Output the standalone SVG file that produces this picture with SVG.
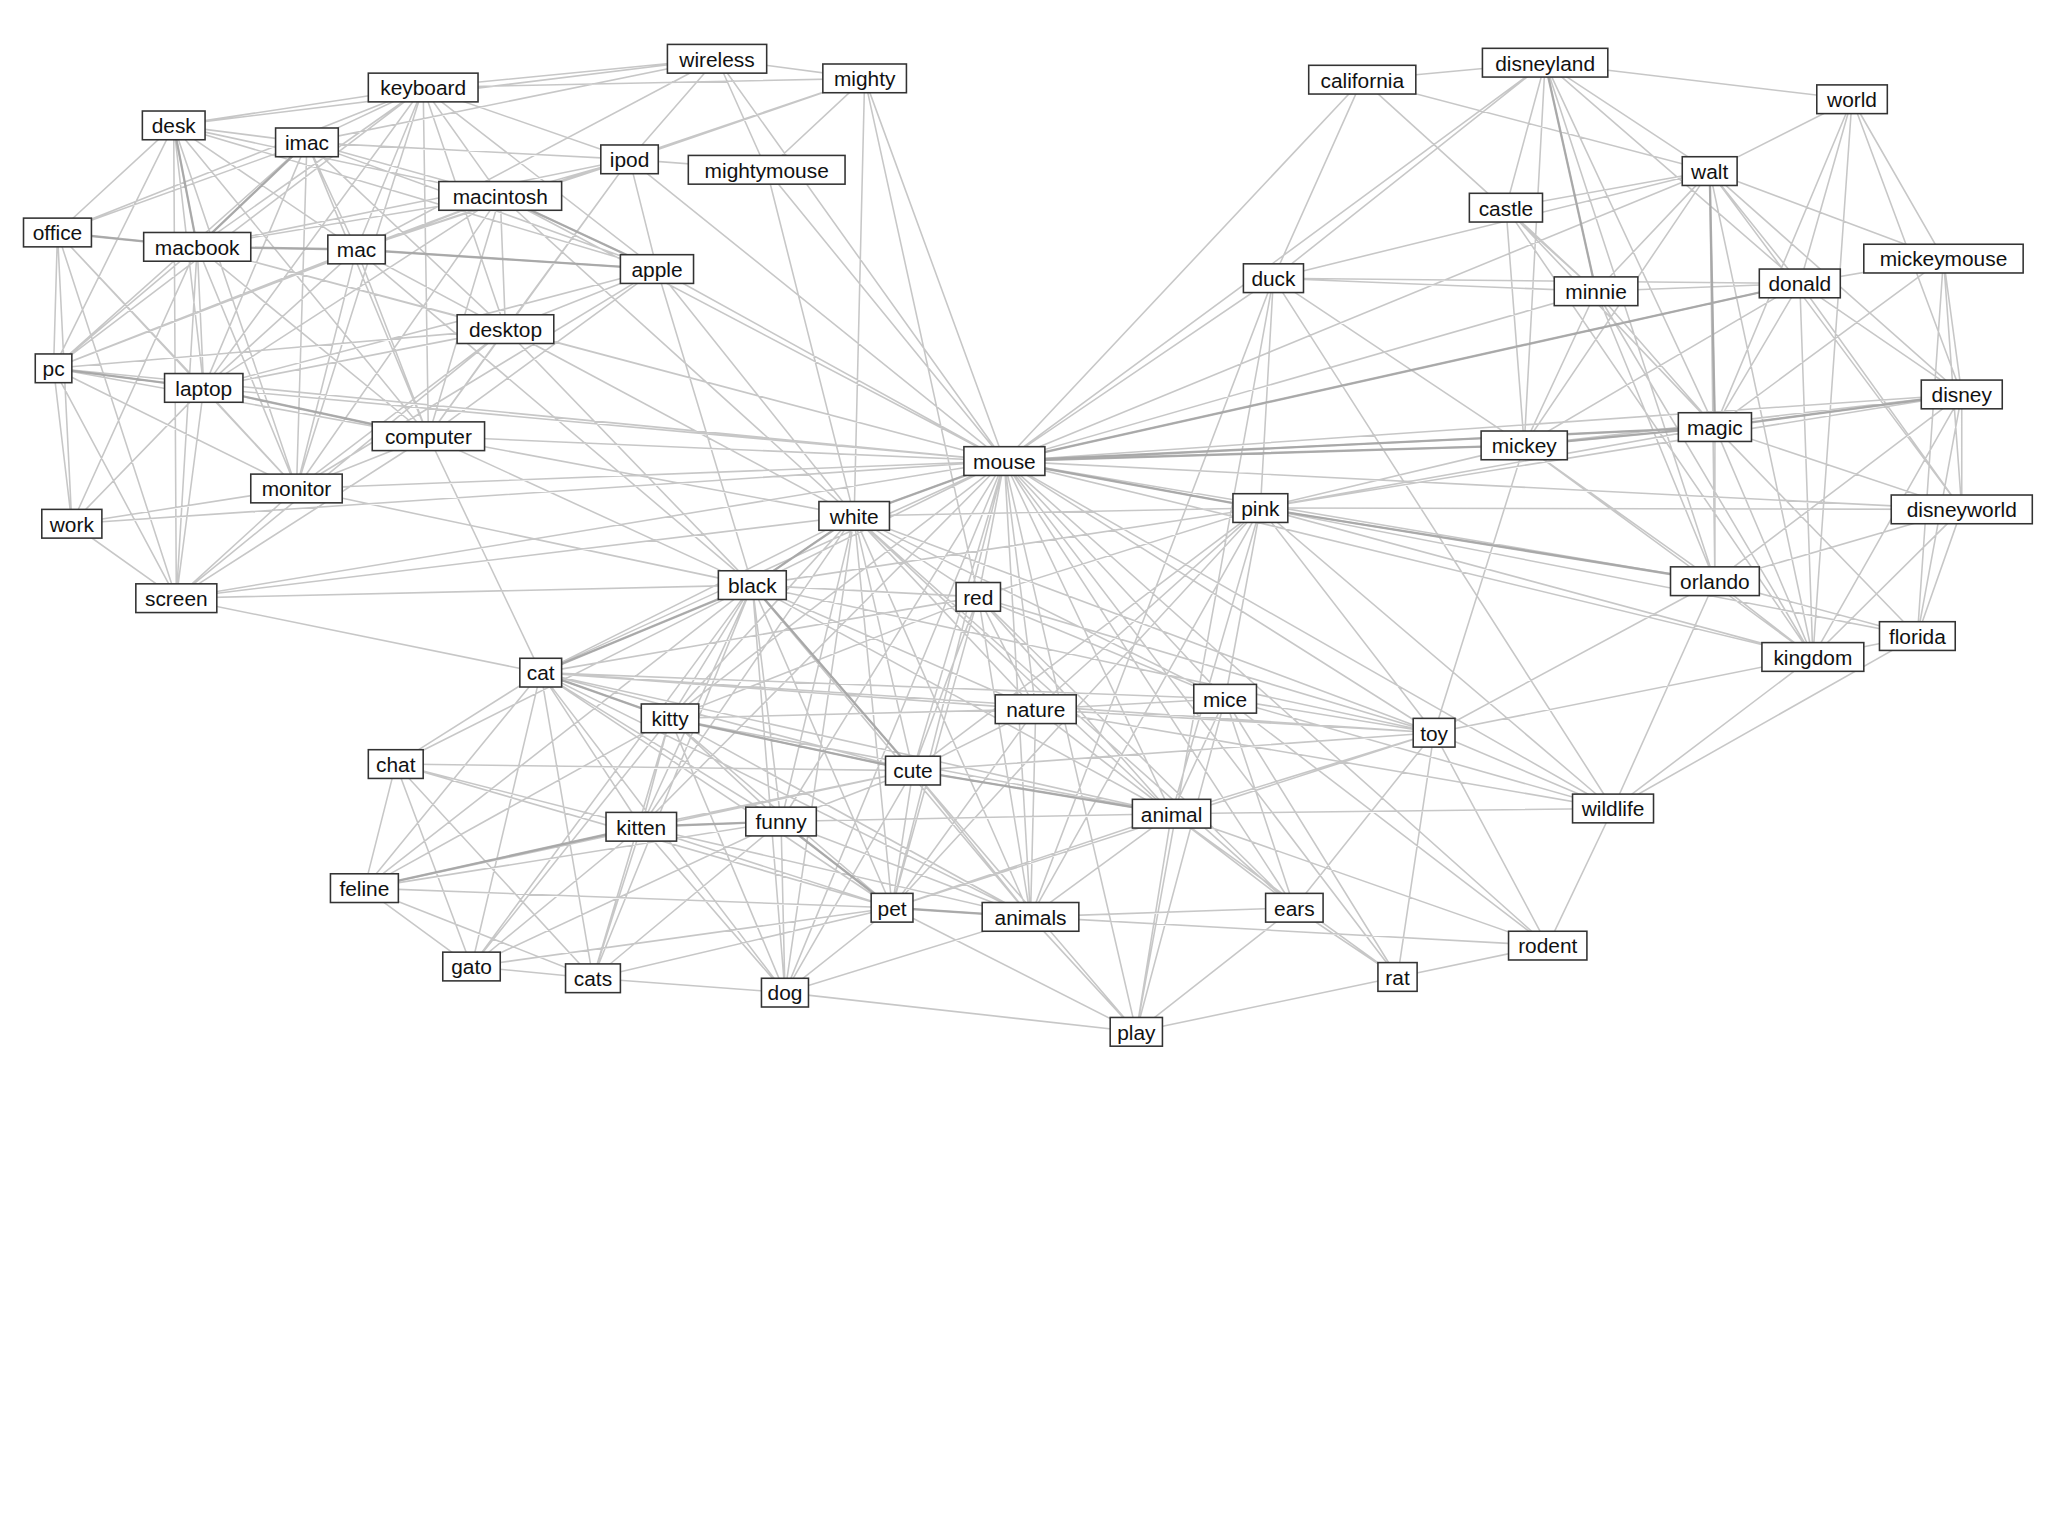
<svg xmlns="http://www.w3.org/2000/svg" width="2048" height="1536" viewBox="0 0 2048 1536">
<style>
.e{stroke:#b4b4b4;stroke-width:1.2;fill:none;opacity:.75}
.s{stroke:#a0a0a0;stroke-width:1.8;fill:none;opacity:.8}
.n rect{fill:#fff;stroke:#333;stroke-width:1.2}
.n text{font-family:"Liberation Sans",Arial,sans-serif;font-size:16px;fill:#111;text-anchor:middle}
</style>
<rect width="2048" height="1536" fill="#fff"/>
<g transform="scale(1.3061)">
<g id="connectors">
<path class="e" d="M324 67L133 96M324 67L235 109M324 67L482 122M324 67L383 150M324 67L151 189M324 67L273 191M324 67L503 206M324 67L387 252M324 67L156 297M324 67L328 334M324 67L227 374M324 67L549 45M324 67L662 60M324 67L44 178M324 67L41 282
M133 96L235 109M133 96L151 189M133 96L273 191M133 96L44 178M133 96L156 297M133 96L328 334M133 96L227 374M133 96L41 282M133 96L383 150M133 96L503 206M133 96L135 458
M235 109L151 189M235 109L273 191M235 109L482 122M235 109L383 150M235 109L503 206M235 109L387 252M235 109L156 297M235 109L328 334M235 109L227 374M235 109L44 178M235 109L41 282
M482 122L383 150M482 122L273 191M482 122L503 206M482 122L387 252M482 122L151 189M482 122L328 334M482 122L549 45M482 122L587 130
M383 150L151 189M383 150L273 191M383 150L503 206M383 150L387 252M383 150L328 334M383 150L156 297M383 150L227 374M383 150L41 282
M151 189L273 191M151 189L156 297M151 189L41 282M151 189L44 178M151 189L227 374M151 189L328 334M151 189L387 252M151 189L135 458M151 189L55 401
M273 191L503 206M273 191L387 252M273 191L328 334M273 191L156 297M273 191L227 374M273 191L41 282
M503 206L387 252M503 206L328 334M503 206L156 297M503 206L227 374M387 252L328 334M387 252L156 297M387 252L227 374M387 252L41 282M387 252L135 458
M44 178L41 282M44 178L156 297M44 178L55 401M44 178L227 374M44 178L135 458M41 282L156 297M41 282L55 401M41 282L135 458M41 282L227 374M41 282L328 334
M156 297L227 374M156 297L328 334M156 297L55 401M156 297L135 458M328 334L227 374M328 334L135 458M227 374L55 401M227 374L135 458M55 401L135 458
M549 45L587 130M549 45L662 60M549 45L273 191M549 45L235 109M549 45L133 96M662 60L587 130M662 60L482 122M662 60L273 191
M769 353L503 206M769 353L387 252M769 353L482 122M769 353L587 130M769 353L549 45M769 353L662 60M769 353L328 334M769 353L383 150M769 353L151 189M769 353L156 297M769 353L41 282M769 353L135 458M769 353L227 374M769 353L55 401
M769 353L975 213M769 353L1183 48M769 353L1309 131M769 353L1043 61M769 353L1222 223M769 353L1378 217M769 353L1167 341M769 353L1313 327M769 353L1502 302M769 353L1502 390M769 353L1313 445M769 353L1388 503
M769 353L654 395M769 353L576 448M769 353L749 457M769 353L965 389M769 353L414 515M769 353L793 543M769 353L938 535M769 353L513 550M769 353L699 590M769 353L897 623M769 353L598 629M769 353L683 695M769 353L789 702M769 353L991 695M769 353L1098 561M769 353L1235 619M769 353L1185 724M769 353L1070 748M769 353L870 790M769 353L601 760M769 353L491 633
M654 395L503 206M654 395L387 252M654 395L328 334M654 395L383 150M654 395L273 191M654 395L587 130M654 395L662 60M654 395L135 458M654 395L576 448M654 395L749 457M654 395L965 389M654 395L414 515M654 395L513 550M654 395L699 590M654 395L793 543M654 395L897 623M654 395L683 695M654 395L789 702M654 395L598 629M654 395L491 633M654 395L601 760M654 395L991 695M654 395L938 535M654 395L1098 561
M576 448L387 252M576 448L328 334M576 448L503 206M576 448L227 374M576 448L135 458M576 448L273 191M576 448L749 457M576 448L414 515M576 448L513 550M576 448L699 590M576 448L491 633M576 448L598 629M576 448L683 695M576 448L789 702M576 448L601 760M576 448L793 543M576 448L897 623M576 448L303 585M576 448L279 680M576 448L361 740M576 448L454 749M576 448L965 389M576 448L1098 561
M749 457L965 389M749 457L414 515M749 457L513 550M749 457L699 590M749 457L793 543M749 457L897 623M749 457L683 695M749 457L789 702M749 457L938 535M749 457L1098 561M749 457L991 695
M965 389L975 213M965 389L1167 341M965 389L1313 327M965 389L1313 445M965 389L1502 390M965 389L1388 503M965 389L1468 487M965 389L1502 302M965 389L897 623M965 389L938 535M965 389L793 543M965 389L789 702M965 389L683 695M965 389L1098 561M965 389L1235 619M965 389L699 590
M1043 61L1183 48M1043 61L975 213M1043 61L1309 131M1043 61L1222 223M1183 48L1418 76M1183 48L1309 131M1183 48L1153 159M1183 48L1222 223M1183 48L1378 217M1183 48L1313 327M1183 48L1167 341M1183 48L1313 445M1183 48L975 213
M1418 76L1309 131M1418 76L1378 217M1418 76L1488 198M1418 76L1502 302M1418 76L1313 327M1418 76L1388 503M1309 131L1153 159M1309 131L1222 223M1309 131L1378 217M1309 131L1488 198M1309 131L1502 302M1309 131L1313 327M1309 131L1167 341M1309 131L1313 445M1309 131L1388 503M1309 131L1502 390M1309 131L975 213
M1153 159L1222 223M1153 159L1167 341M1153 159L1313 327M1153 159L1388 503M975 213L1222 223M975 213L1378 217M975 213L1167 341M975 213L1235 619M1222 223L1378 217M1222 223L1167 341M1222 223L1313 327M1222 223L1388 503M1222 223L1313 445
M1378 217L1488 198M1378 217L1502 302M1378 217L1313 327M1378 217L1167 341M1378 217L1502 390M1378 217L1388 503M1488 198L1502 302M1488 198L1502 390M1488 198L1468 487M1488 198L1313 327M1502 302L1313 327M1502 302L1502 390M1502 302L1468 487M1502 302L1388 503M1502 302L1313 445M1502 302L1167 341
M1313 327L1167 341M1313 327L1313 445M1313 327L1388 503M1313 327L1502 390M1313 327L1468 487M1167 341L1313 445M1167 341L1388 503M1502 390L1468 487M1502 390L1388 503M1502 390L1313 445M1313 445L1388 503M1313 445L1468 487M1468 487L1388 503M1388 503L1098 561M1313 445L1098 561M1167 341L1098 561
M414 515L513 550M414 515L491 633M414 515L699 590M414 515L598 629M414 515L279 680M414 515L303 585M414 515L361 740M414 515L454 749M414 515L683 695M414 515L897 623M414 515L789 702M414 515L601 760M414 515L793 543M414 515L938 535M414 515L1098 561
M513 550L491 633M513 550L699 590M513 550L598 629M513 550L683 695M513 550L897 623M513 550L789 702M513 550L279 680M513 550L361 740M513 550L454 749M513 550L601 760M513 550L793 543
M303 585L279 680M303 585L361 740M303 585L454 749M303 585L491 633M303 585L683 695M303 585L699 590M279 680L361 740M279 680L454 749M279 680L491 633M279 680L598 629M279 680L683 695M279 680L699 590
M361 740L454 749M361 740L491 633M361 740L683 695M361 740L598 629M454 749L491 633M454 749L598 629M454 749L683 695M454 749L601 760M491 633L598 629M491 633L699 590M491 633L683 695M491 633L601 760M491 633L789 702
M598 629L699 590M598 629L683 695M598 629L789 702M598 629L897 623M598 629L601 760M699 590L793 543M699 590L897 623M699 590L683 695M699 590L789 702M699 590L601 760M699 590L870 790M699 590L1098 561
M793 543L897 623M793 543L938 535M793 543L1235 619M793 543L789 702M793 543L683 695M793 543L1098 561M793 543L991 695M938 535L897 623M938 535L1098 561M938 535L991 695M938 535L1070 748M938 535L1185 724M938 535L1235 619
M897 623L1235 619M897 623L1098 561M897 623L683 695M897 623L789 702M897 623L991 695M897 623L1185 724M897 623L1070 748M897 623L870 790M683 695L789 702M683 695L601 760M683 695L870 790M683 695L1098 561M789 702L870 790M789 702L991 695M789 702L601 760M789 702L1185 724
M991 695L1098 561M991 695L1070 748M991 695L870 790M1070 748L1185 724M1070 748L1098 561M1185 724L1235 619M1185 724L1098 561M1098 561L1235 619M601 760L870 790M1070 748L870 790M938 535L870 790
M328 334L414 515M135 458L414 515M662 60L654 395M662 60L749 457M975 213L789 702M975 213L870 790M1468 487L1235 619M1235 619L1388 503M1235 619L1313 445"/>
<path class="s" d="M235 109L151 189M151 189L273 191M273 191L503 206M41 282L156 297M156 297L328 334M769 353L1313 327M769 353L1167 341M769 353L654 395M654 395L576 448M576 448L414 515M414 515L513 550M513 550L699 590M491 633L598 629M598 629L683 695M683 695L789 702M279 680L491 633M1167 341L1313 327M1313 327L1502 302M1309 131L1313 327M1183 48L1222 223M769 353L1378 217M769 353L965 389M965 389L1313 445M576 448L699 590M699 590L897 623M383 150L503 206M133 96L151 189M44 178L151 189"/>
</g>
<g id="nodes">
<g class="n" id="n-wireless"><rect x="511" y="34" width="76" height="22"/><text x="549" y="51">wireless</text></g>
<g class="n" id="n-mighty"><rect x="630" y="49" width="64" height="22"/><text x="662" y="66">mighty</text></g>
<g class="n" id="n-keyboard"><rect x="282" y="56" width="84" height="22"/><text x="324" y="73">keyboard</text></g>
<g class="n" id="n-desk"><rect x="109" y="85" width="48" height="22"/><text x="133" y="102">desk</text></g>
<g class="n" id="n-imac"><rect x="211" y="98" width="48" height="22"/><text x="235" y="115">imac</text></g>
<g class="n" id="n-ipod"><rect x="460" y="111" width="44" height="22"/><text x="482" y="128">ipod</text></g>
<g class="n" id="n-mightymouse"><rect x="527" y="119" width="120" height="22"/><text x="587" y="136">mightymouse</text></g>
<g class="n" id="n-macintosh"><rect x="336" y="139" width="94" height="22"/><text x="383" y="156">macintosh</text></g>
<g class="n" id="n-office"><rect x="18" y="167" width="52" height="22"/><text x="44" y="184">office</text></g>
<g class="n" id="n-macbook"><rect x="110" y="178" width="82" height="22"/><text x="151" y="195">macbook</text></g>
<g class="n" id="n-mac"><rect x="251" y="180" width="44" height="22"/><text x="273" y="197">mac</text></g>
<g class="n" id="n-apple"><rect x="475" y="195" width="56" height="22"/><text x="503" y="212">apple</text></g>
<g class="n" id="n-desktop"><rect x="350" y="241" width="74" height="22"/><text x="387" y="258">desktop</text></g>
<g class="n" id="n-pc"><rect x="27" y="271" width="28" height="22"/><text x="41" y="288">pc</text></g>
<g class="n" id="n-laptop"><rect x="126" y="286" width="60" height="22"/><text x="156" y="303">laptop</text></g>
<g class="n" id="n-computer"><rect x="285" y="323" width="86" height="22"/><text x="328" y="340">computer</text></g>
<g class="n" id="n-monitor"><rect x="192" y="363" width="70" height="22"/><text x="227" y="380">monitor</text></g>
<g class="n" id="n-work"><rect x="32" y="390" width="46" height="22"/><text x="55" y="407">work</text></g>
<g class="n" id="n-screen"><rect x="104" y="447" width="62" height="22"/><text x="135" y="464">screen</text></g>
<g class="n" id="n-california"><rect x="1002" y="50" width="82" height="22"/><text x="1043" y="67">california</text></g>
<g class="n" id="n-disneyland"><rect x="1135" y="37" width="96" height="22"/><text x="1183" y="54">disneyland</text></g>
<g class="n" id="n-world"><rect x="1391" y="65" width="54" height="22"/><text x="1418" y="82">world</text></g>
<g class="n" id="n-walt"><rect x="1288" y="120" width="42" height="22"/><text x="1309" y="137">walt</text></g>
<g class="n" id="n-castle"><rect x="1125" y="148" width="56" height="22"/><text x="1153" y="165">castle</text></g>
<g class="n" id="n-duck"><rect x="952" y="202" width="46" height="22"/><text x="975" y="219">duck</text></g>
<g class="n" id="n-minnie"><rect x="1190" y="212" width="64" height="22"/><text x="1222" y="229">minnie</text></g>
<g class="n" id="n-donald"><rect x="1347" y="206" width="62" height="22"/><text x="1378" y="223">donald</text></g>
<g class="n" id="n-mickeymouse"><rect x="1427" y="187" width="122" height="22"/><text x="1488" y="204">mickeymouse</text></g>
<g class="n" id="n-disney"><rect x="1471" y="291" width="62" height="22"/><text x="1502" y="308">disney</text></g>
<g class="n" id="n-magic"><rect x="1285" y="316" width="56" height="22"/><text x="1313" y="333">magic</text></g>
<g class="n" id="n-mickey"><rect x="1134" y="330" width="66" height="22"/><text x="1167" y="347">mickey</text></g>
<g class="n" id="n-mouse"><rect x="738" y="342" width="62" height="22"/><text x="769" y="359">mouse</text></g>
<g class="n" id="n-pink"><rect x="944" y="378" width="42" height="22"/><text x="965" y="395">pink</text></g>
<g class="n" id="n-disneyworld"><rect x="1448" y="379" width="108" height="22"/><text x="1502" y="396">disneyworld</text></g>
<g class="n" id="n-white"><rect x="627" y="384" width="54" height="22"/><text x="654" y="401">white</text></g>
<g class="n" id="n-orlando"><rect x="1279" y="434" width="68" height="22"/><text x="1313" y="451">orlando</text></g>
<g class="n" id="n-black"><rect x="550" y="437" width="52" height="22"/><text x="576" y="454">black</text></g>
<g class="n" id="n-red"><rect x="732" y="446" width="34" height="22"/><text x="749" y="463">red</text></g>
<g class="n" id="n-florida"><rect x="1439" y="476" width="58" height="22"/><text x="1468" y="493">florida</text></g>
<g class="n" id="n-kingdom"><rect x="1349" y="492" width="78" height="22"/><text x="1388" y="509">kingdom</text></g>
<g class="n" id="n-cat"><rect x="398" y="504" width="32" height="22"/><text x="414" y="521">cat</text></g>
<g class="n" id="n-nature"><rect x="762" y="532" width="62" height="22"/><text x="793" y="549">nature</text></g>
<g class="n" id="n-mice"><rect x="914" y="524" width="48" height="22"/><text x="938" y="541">mice</text></g>
<g class="n" id="n-kitty"><rect x="491" y="539" width="44" height="22"/><text x="513" y="556">kitty</text></g>
<g class="n" id="n-toy"><rect x="1082" y="550" width="32" height="22"/><text x="1098" y="567">toy</text></g>
<g class="n" id="n-chat"><rect x="282" y="574" width="42" height="22"/><text x="303" y="591">chat</text></g>
<g class="n" id="n-cute"><rect x="678" y="579" width="42" height="22"/><text x="699" y="596">cute</text></g>
<g class="n" id="n-wildlife"><rect x="1204" y="608" width="62" height="22"/><text x="1235" y="625">wildlife</text></g>
<g class="n" id="n-animal"><rect x="867" y="612" width="60" height="22"/><text x="897" y="629">animal</text></g>
<g class="n" id="n-kitten"><rect x="464" y="622" width="54" height="22"/><text x="491" y="639">kitten</text></g>
<g class="n" id="n-funny"><rect x="571" y="618" width="54" height="22"/><text x="598" y="635">funny</text></g>
<g class="n" id="n-feline"><rect x="253" y="669" width="52" height="22"/><text x="279" y="686">feline</text></g>
<g class="n" id="n-pet"><rect x="667" y="684" width="32" height="22"/><text x="683" y="701">pet</text></g>
<g class="n" id="n-animals"><rect x="752" y="691" width="74" height="22"/><text x="789" y="708">animals</text></g>
<g class="n" id="n-ears"><rect x="969" y="684" width="44" height="22"/><text x="991" y="701">ears</text></g>
<g class="n" id="n-rodent"><rect x="1155" y="713" width="60" height="22"/><text x="1185" y="730">rodent</text></g>
<g class="n" id="n-gato"><rect x="339" y="729" width="44" height="22"/><text x="361" y="746">gato</text></g>
<g class="n" id="n-cats"><rect x="433" y="738" width="42" height="22"/><text x="454" y="755">cats</text></g>
<g class="n" id="n-rat"><rect x="1055" y="737" width="30" height="22"/><text x="1070" y="754">rat</text></g>
<g class="n" id="n-dog"><rect x="583" y="749" width="36" height="22"/><text x="601" y="766">dog</text></g>
<g class="n" id="n-play"><rect x="850" y="779" width="40" height="22"/><text x="870" y="796">play</text></g>
</g>
</g>
</svg>
